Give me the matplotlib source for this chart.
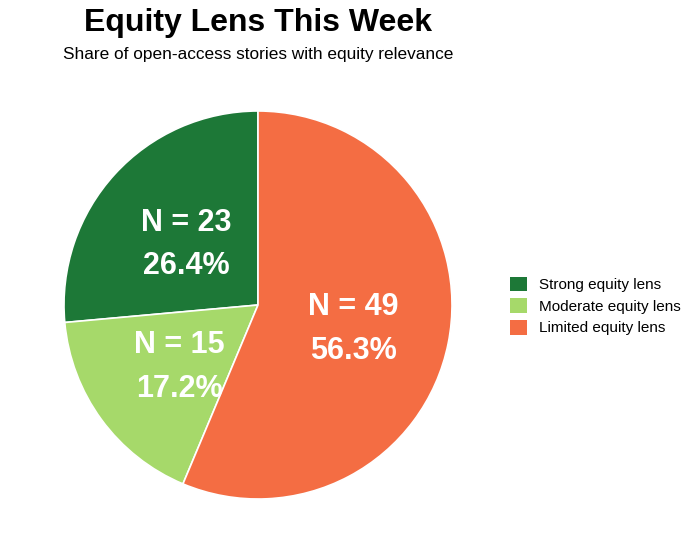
import matplotlib.pyplot as plt
from matplotlib.patches import Patch
import numpy as np

plt.rcParams['font.family'] = ['Liberation Sans', 'DejaVu Sans']

# Datos
categorias = ["Strong equity lens", "Moderate equity lens", "Limited equity lens"]
conteos = [23, 15, 49]
porcentajes = [26.4, 17.2, 56.3]
colores = ["#1d7837", "#a6d96a", "#f46d43"]

fig = plt.figure(figsize=(6.98, 5.48), dpi=100)

# Pie centrado en (258, 305) px con radio ~194 px
W, H = 698, 548
r_px = 194
cx, cy = 258, 305
ax = fig.add_axes([(cx - r_px) / W, (H - cy - r_px) / H, 2 * r_px / W, 2 * r_px / H])

wedges, _ = ax.pie(conteos, colors=colores, startangle=90, counterclock=True,
                   wedgeprops=dict(edgecolor="white", linewidth=1.2))
ax.set_xlim(-1, 1)
ax.set_ylim(-1, 1)
ax.set_aspect("equal")

for w, n, p in zip(wedges, conteos, porcentajes):
    ang = np.deg2rad((w.theta1 + w.theta2) / 2)
    ax.text(0.5 * np.cos(ang), 0.5 * np.sin(ang) - 0.025, f"N = {n}\n{p:.1f}%",
            ha="center", va="center", color="white", fontsize=22,
            fontweight="bold", linespacing=1.6)

fig.text(cx / W, 1 - 23 / H, "Equity Lens This Week", ha="center", va="center",
         fontsize=23, fontweight="bold")
fig.text(cx / W, 1 - 54 / H, "Share of open-access stories with equity relevance",
         ha="center", va="center", fontsize=12.4)

handles = [Patch(facecolor=c, edgecolor="none") for c in colores]
fig.legend(handles, categorias, loc="center left", bbox_to_anchor=(510 / W, 1 - 306 / H),
           frameon=False, fontsize=11, handlelength=1.1, handleheight=1.1,
           handletextpad=0.8, labelspacing=0.4, borderaxespad=0, borderpad=0)

fig.savefig("out.png", dpi=100, facecolor="white")
